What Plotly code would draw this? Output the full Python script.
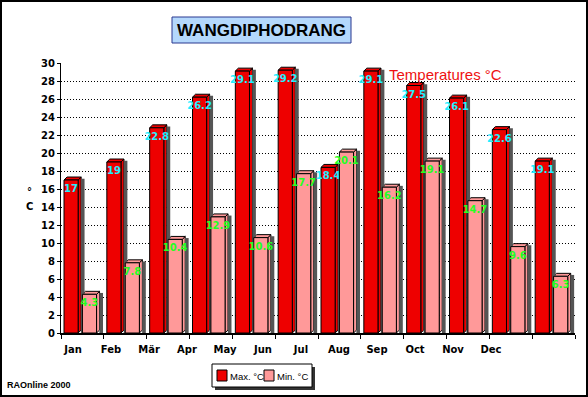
import plotly.graph_objects as go

months = ["Jan", "Feb", "Mär", "Apr", "May", "Jun", "Jul", "Aug", "Sep", "Oct", "Nov", "Dec"]
max_temp = [17, 19, 22.8, 26.2, 29.1, 29.2, 18.4, 29.1, 27.5, 26.1, 22.6, 19.1]
min_temp = [4.3, 7.8, 10.4, 12.9, 10.6, 17.7, 20.1, 16.2, 19.1, 14.7, 9.6, 6.3]
y_ticks = list(range(0, 31, 2))

W, H = 588, 397
L, R, T, B = 61, 13, 63, 64
PW, PH = W - L - R, H - T - B

def px2x(px):
    return (px - L) / PW

def py2y(py):
    return (H - B - py) / PH

SANS = "Liberation Sans, Arial"
TICKF = "DejaVu Sans, Verdana"

RED = "#ee0000"
PINK = "#ff9999"
SHADOW = "#555555"

xs = list(range(len(months)))
bw = 0.33      # front face width (category units)
dx = 0.07      # depth in x
dy = 0.33      # depth in y (data units)
off_max = -0.43
off_min = 0.0

fig = go.Figure()

# shadows
for vals, off in ((max_temp, off_max), (min_temp, off_min)):
    fig.add_trace(go.Bar(
        x=xs, y=[v + 0.15 for v in vals], offset=off + bw + dx - 0.005, width=0.085,
        marker=dict(color=SHADOW, line=dict(width=0)), showlegend=False, hoverinfo="skip"))

# front faces
for name, vals, off, col, tcol in (("Max. °C", max_temp, off_max, RED, "#22eeff"),
                                    ("Min. °C", min_temp, off_min, PINK, "#22ff22")):
    fig.add_trace(go.Bar(
        x=xs, y=vals, offset=off, width=bw, name=name,
        marker=dict(color=col, line=dict(color="black", width=1)),
        text=[f"{v:g}" for v in vals], textposition="inside", insidetextanchor="end",
        textangle=0, textfont=dict(color=tcol, size=10, family=TICKF, weight="bold"),
        showlegend=False, hoverinfo="skip"))

# invisible trace for shifted month labels
fig.add_trace(go.Scatter(x=xs, y=[0] * len(xs), xaxis="x2", mode="markers",
                         marker=dict(opacity=0), showlegend=False, hoverinfo="skip"))

shapes = []
# 3D caps and side faces (between grid and traces so labels stay visible)
for vals, off, col in ((max_temp, off_max, RED), (min_temp, off_min, PINK)):
    for i, v in zip(xs, vals):
        x0 = i + off
        x1 = x0 + bw
        cap = f"M {x0},{v} L {x1},{v} L {x1 + dx},{v + dy} L {x0 + dx},{v + dy} Z"
        side = f"M {x1},0 L {x1 + dx},{dy} L {x1 + dx},{v + dy} L {x1},{v} Z"
        for p in (side, cap):
            shapes.append(dict(type="path", path=p, xref="x", yref="y",
                               fillcolor=col, line=dict(color="black", width=1), layer="between"))

# title box
shapes.append(dict(type="rect", xref="paper", yref="paper",
                   x0=px2x(172), x1=px2x(351), y0=py2y(43), y1=py2y(17),
                   fillcolor="#b4d8fc", line=dict(color="#2b3990", width=1)))
# legend shadow and box
shapes.append(dict(type="rect", xref="paper", yref="paper",
                   x0=px2x(215), x1=px2x(315), y0=py2y(390), y1=py2y(367),
                   fillcolor="#333333", line=dict(width=0)))
shapes.append(dict(type="rect", xref="paper", yref="paper",
                   x0=px2x(212), x1=px2x(312), y0=py2y(387), y1=py2y(364),
                   fillcolor="white", line=dict(color="black", width=1)))
for sx, col in ((217, RED), (264, PINK)):
    shapes.append(dict(type="rect", xref="paper", yref="paper",
                       x0=px2x(sx), x1=px2x(sx + 10), y0=py2y(381), y1=py2y(370),
                       fillcolor=col, line=dict(color="black", width=1)))
# outer frame
shapes.append(dict(type="rect", xref="paper", yref="paper",
                   x0=px2x(1), x1=px2x(W - 1), y0=py2y(H - 1), y1=py2y(1),
                   fillcolor="rgba(0,0,0,0)", line=dict(color="black", width=2)))

def ann(text, px, py, font, xanchor="center"):
    return dict(text=text, x=px2x(px), y=py2y(py), xref="paper", yref="paper",
                xanchor=xanchor, yanchor="middle", showarrow=False, font=font)

annotations = [
    ann("WANGDIPHODRANG", 261.5, 30, dict(family=SANS, size=17, color="black", weight="bold")),
    ann("Temperatures °C", 387, 74, dict(family=SANS, size=15, color="#ee1111"), "left"),
    ann("Max. °C", 228, 376, dict(family=SANS, size=9.5, color="black"), "left"),
    ann("Min. °C", 275, 376, dict(family=SANS, size=9.5, color="black"), "left"),
    ann("RAOnline 2000", 5, 385, dict(family=SANS, size=9, color="black", weight="bold"), "left"),
    ann("°", 29, 191, dict(family=TICKF, size=10, color="black", weight="bold")),
    ann("C", 29, 206, dict(family=TICKF, size=10, color="black", weight="bold")),
]

# month labels axis: spacing 38px, Jan centred at 73px
lab_span = PW / 38.0
lab_r0 = -(73 - L) / 38.0

fig.update_layout(
    width=W, height=H,
    margin=dict(l=L, r=R, t=T, b=B, pad=0),
    paper_bgcolor="white", plot_bgcolor="white",
    barmode="overlay",
    showlegend=False,
    shapes=shapes,
    annotations=annotations,
    uniformtext=dict(minsize=10, mode="show"),
    xaxis=dict(range=[-0.5, 11.5], tickvals=[i - 0.5 for i in range(13)], ticktext=[""] * 13,
               showticklabels=False, ticks="outside", ticklen=4, tickcolor="black",
               showgrid=False, showline=True, linecolor="black", linewidth=2, zeroline=False,
               fixedrange=True),
    xaxis2=dict(overlaying="x", anchor="y", side="bottom", range=[lab_r0, lab_r0 + lab_span],
                tickvals=xs, ticktext=months, showgrid=False, showline=False, zeroline=False,
                ticks="outside", ticklen=7, tickcolor="rgba(0,0,0,0)",
                tickfont=dict(family=TICKF, size=10, color="black", weight="bold")),
    yaxis=dict(range=[0, 30], tickvals=y_ticks, showgrid=True, gridcolor="black", gridwidth=1,
               griddash="1px,2px", showline=True, linecolor="black", linewidth=1, zeroline=False,
               ticks="outside", ticklen=3, tickcolor="black",
               tickfont=dict(family=TICKF, size=10, color="black", weight="bold")),
)

fig.write_html("out.html", config={"displayModeBar": False},
               post_script="document.body.style.margin='0';")
